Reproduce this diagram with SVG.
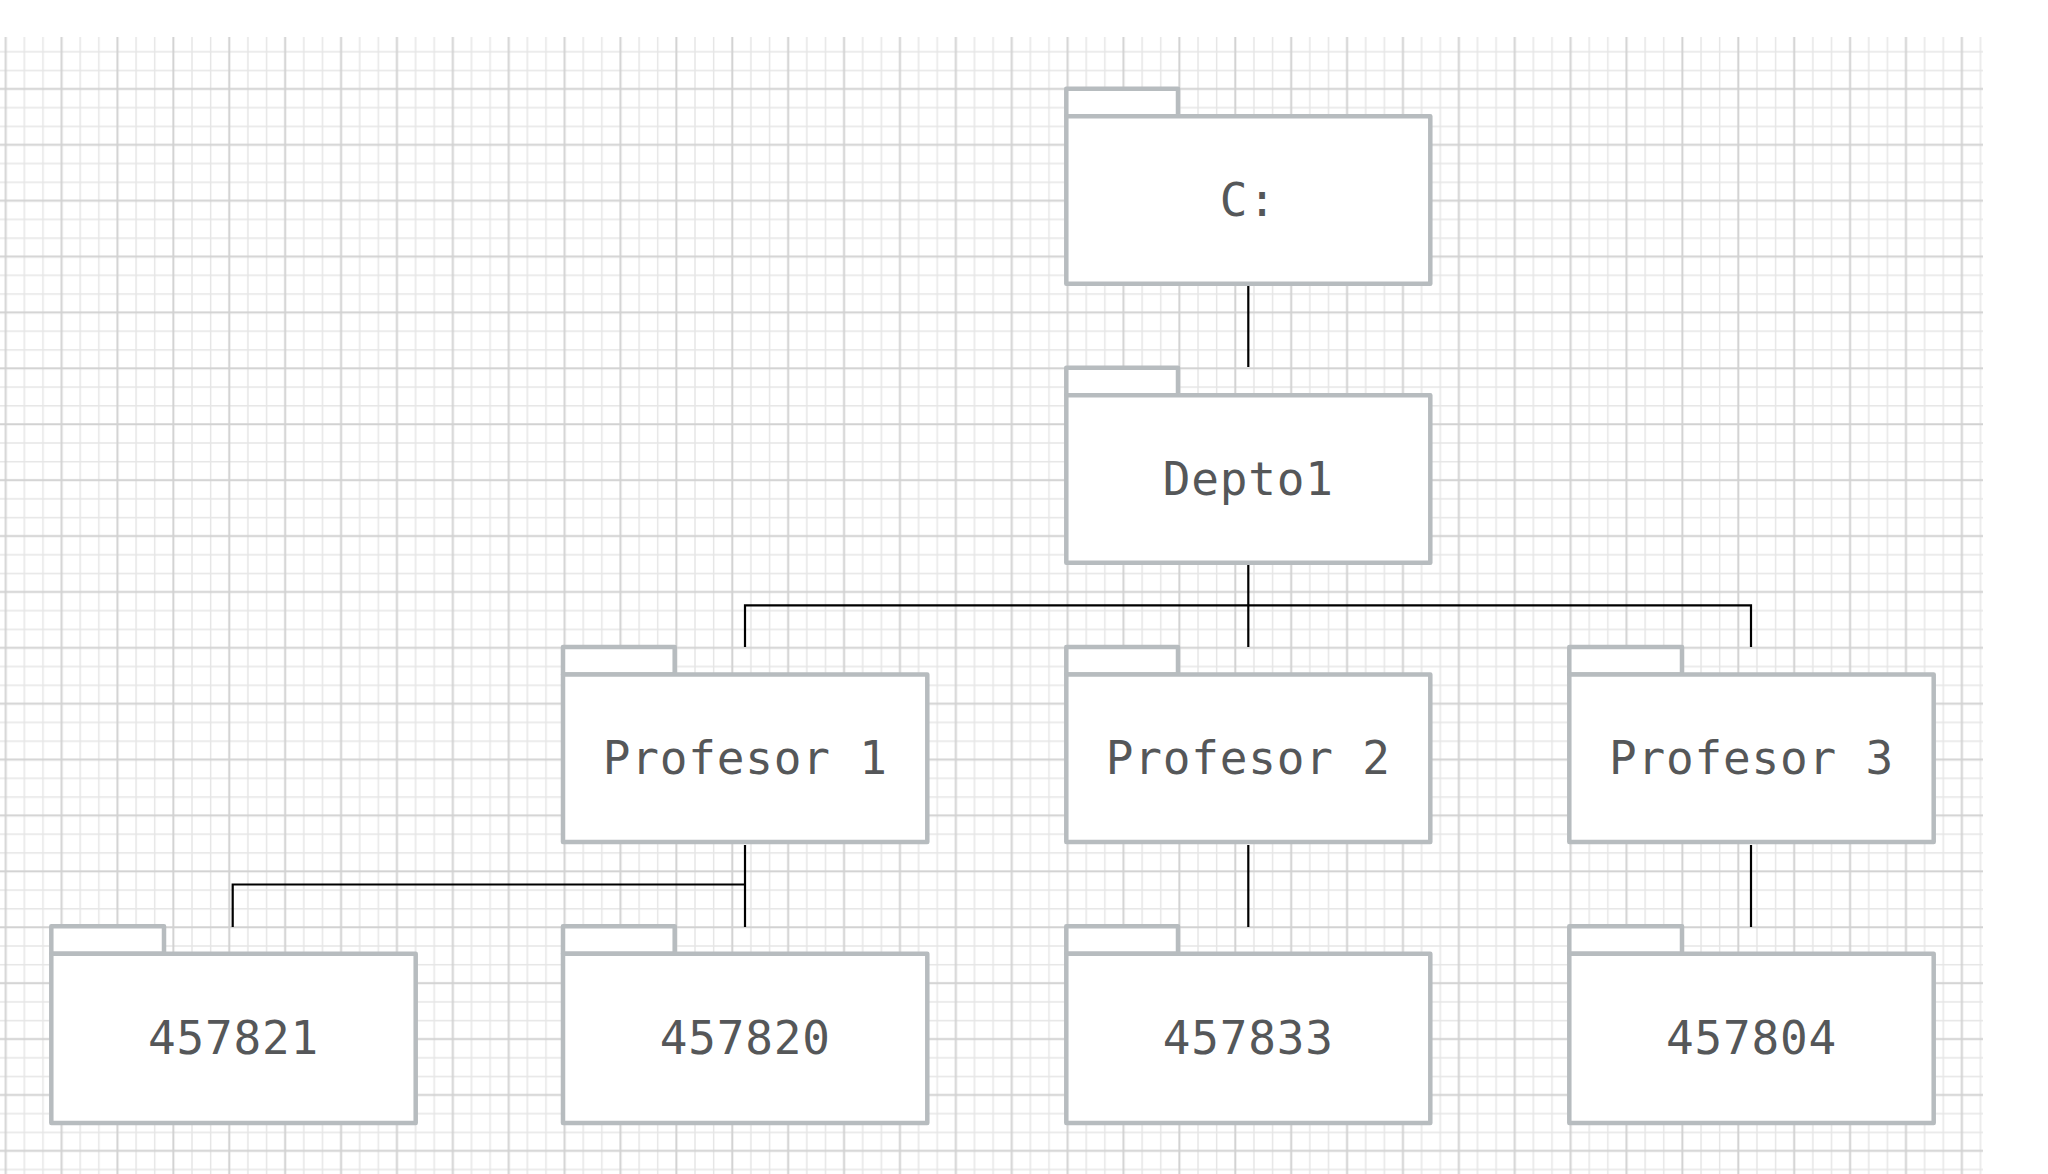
<svg xmlns="http://www.w3.org/2000/svg" width="2048" height="1174" viewBox="0 0 2048 1174">
  <defs>
    <pattern id="grid" patternUnits="userSpaceOnUse" x="-3.6" y="23.8" width="55.89" height="55.89">
      <path d="M27.945 0V55.89M46.575 0V55.89M0 27.945H55.89M0 46.575H55.89" stroke="#e6e6e6" stroke-width="1.5" fill="none"/>
      <path d="M9.315 0V55.89M0 9.315H55.89" stroke="#d2d2d2" stroke-width="2" fill="none"/>
    </pattern>
    <style>
      .box { fill: #ffffff; stroke: #b7bcbf; stroke-width: 4.5; stroke-linejoin: round; }
      .lbl { font-family: "DejaVu Sans Mono", "Liberation Mono", monospace; font-size: 46px; letter-spacing: 0.8px; fill: #555759; text-anchor: middle; }
      .conn { fill: none; stroke: #000000; stroke-width: 2.2; stroke-linejoin: miter; stroke-linecap: butt; }
    </style>
  </defs>
  <rect x="0" y="0" width="2048" height="1174" fill="#ffffff"/>
  <rect x="0" y="37" width="1983" height="1137" fill="url(#grid)"/>

  <g id="connectors">
    <polyline class="conn" points="1248.3,286 1248.3,367"/>
    <polyline class="conn" points="1248.3,565 1248.3,647"/>
    <polyline class="conn" points="745,647 745,605.3 1751,605.3 1751,647"/>
    <polyline class="conn" points="745,845 745,927"/>
    <polyline class="conn" points="232.7,927 232.7,884.5 745,884.5"/>
    <polyline class="conn" points="1248.3,845 1248.3,927"/>
    <polyline class="conn" points="1751,845 1751,927"/>
  </g>

  <g id="node-c">
    <rect class="box" x="1066.3" y="88.7" width="111.7" height="27.6"/>
    <rect class="box" x="1066.3" y="116.3" width="364" height="167.4"/>
    <text class="lbl" x="1248.3" y="215.5">C:</text>
  </g>
  <g id="node-depto1">
    <rect class="box" x="1066.3" y="367.7" width="111.7" height="27.6"/>
    <rect class="box" x="1066.3" y="395.3" width="364" height="167.4"/>
    <text class="lbl" x="1248.3" y="494.5">Depto1</text>
  </g>
  <g id="node-profesor1">
    <rect class="box" x="563" y="647" width="111.7" height="27.6"/>
    <rect class="box" x="563" y="674.6" width="364.3" height="167.4"/>
    <text class="lbl" x="745.2" y="774">Profesor 1</text>
  </g>
  <g id="node-profesor2">
    <rect class="box" x="1066.3" y="647" width="111.7" height="27.6"/>
    <rect class="box" x="1066.3" y="674.6" width="364" height="167.4"/>
    <text class="lbl" x="1248.3" y="774">Profesor 2</text>
  </g>
  <g id="node-profesor3">
    <rect class="box" x="1569.3" y="647" width="112.7" height="27.6"/>
    <rect class="box" x="1569.3" y="674.6" width="364.4" height="167.4"/>
    <text class="lbl" x="1751.5" y="774">Profesor 3</text>
  </g>
  <g id="node-457821">
    <rect class="box" x="51.3" y="926.3" width="112.7" height="27.4"/>
    <rect class="box" x="51.3" y="953.7" width="364.4" height="169.3"/>
    <text class="lbl" x="233.5" y="1053.5">457821</text>
  </g>
  <g id="node-457820">
    <rect class="box" x="563" y="926.3" width="111.7" height="27.4"/>
    <rect class="box" x="563" y="953.7" width="364.3" height="169.3"/>
    <text class="lbl" x="745.2" y="1053.5">457820</text>
  </g>
  <g id="node-457833">
    <rect class="box" x="1066.3" y="926.3" width="111.7" height="27.4"/>
    <rect class="box" x="1066.3" y="953.7" width="364" height="169.3"/>
    <text class="lbl" x="1248.3" y="1053.5">457833</text>
  </g>
  <g id="node-457804">
    <rect class="box" x="1569.3" y="926.3" width="112.7" height="27.4"/>
    <rect class="box" x="1569.3" y="953.7" width="364.4" height="169.3"/>
    <text class="lbl" x="1751.5" y="1053.5">457804</text>
  </g>
</svg>
